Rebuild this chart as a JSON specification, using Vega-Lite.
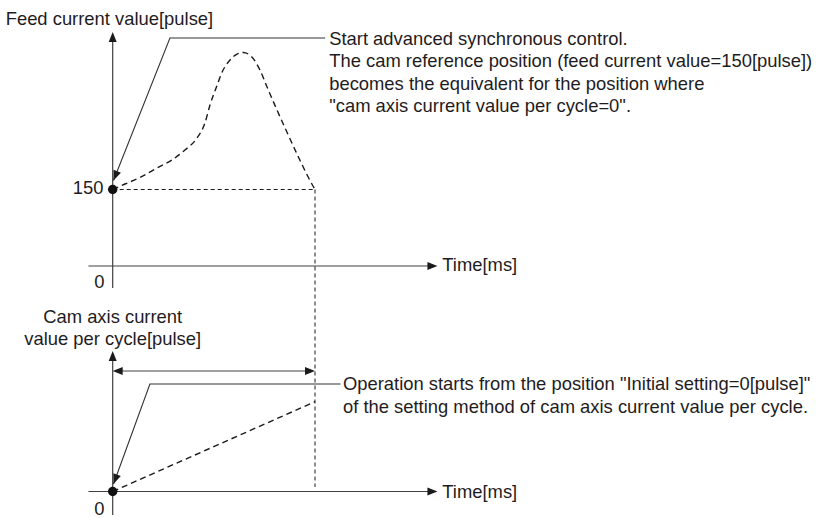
{
  "$schema": "https://vega.github.io/schema/vega-lite/v6.json",
  "width": 820,
  "height": 518,
  "padding": 0,
  "autosize": {"type": "none"},
  "background": "#ffffff",
  "config": {
    "view": {"stroke": null},
    "text": {"font": "Liberation Sans", "fontSize": 18.4, "color": "#1f1c1d"}
  },
  "datasets": {
    "topLines": [
      {"part": "feed axis", "t": 0, "t2": 0, "v": -43.1, "v2": 452},
      {"part": "time axis", "t": -12, "t2": 158, "v": 0, "v2": 0}
    ],
    "topGuides": [
      {"part": "150 level", "t": 0, "t2": 100, "v": 150, "v2": 150},
      {"part": "cycle end", "t": 100, "t2": 100, "v": 150, "v2": -433.3}
    ],
    "feedCurve": [
      {"t": 0, "v": 150}, {"t": 6.1, "v": 160.8}, {"t": 13.5, "v": 173.5}, {"t": 21.9, "v": 192.2},
      {"t": 29.3, "v": 207.8}, {"t": 35.7, "v": 227.5}, {"t": 41.7, "v": 251}, {"t": 45.6, "v": 280.4},
      {"t": 48.1, "v": 315.7}, {"t": 51.1, "v": 349}, {"t": 54.1, "v": 380.4}, {"t": 58, "v": 403.9},
      {"t": 61.5, "v": 415.7}, {"t": 64.5, "v": 418.6}, {"t": 68.5, "v": 411}, {"t": 72.8, "v": 384.3},
      {"t": 76.3, "v": 351}, {"t": 80.2, "v": 315}, {"t": 86.1, "v": 262.7}, {"t": 92.5, "v": 207.8},
      {"t": 99, "v": 156.9}, {"t": 100, "v": 150}
    ],
    "topArrows": [
      {"part": "feed axis", "t": 0, "v": 458.8},
      {"part": "time axis", "t": 160.5, "v": 0},
      {"part": "leader", "t": 0.4, "v": 167.6}
    ],
    "topLeader": [
      {"i": 1, "t": 105, "v": 447.1},
      {"i": 2, "t": 28.3, "v": 447.1},
      {"i": 3, "t": 0.4, "v": 167.6}
    ],
    "topDot": [{"t": 0, "v": 150}],
    "topTextLeft": [
      {"label": "Feed current value[pulse]", "t": -52.9, "v": 472.5},
      {"label": "0", "t": -9.1, "v": -43.1},
      {"label": "Time[ms]", "t": 162.9, "v": -9.2},
      {"label": "Start advanced synchronous control.", "t": 107, "v": 433.3},
      {"label": "The cam reference position (feed current value=150[pulse])", "t": 107, "v": 389.6},
      {"label": "becomes the equivalent for the position where", "t": 107, "v": 345.9},
      {"label": "\"cam axis current value per cycle=0\".", "t": 107, "v": 302}
    ],
    "topTextRight": [{"label": "150", "t": -4.6, "v": 140.6}],
    "botLines": [
      {"part": "cam axis", "t": 0, "t2": 0, "w": -26.2, "w2": 150},
      {"part": "time axis", "t": -12, "t2": 158, "w": 0, "w2": 0},
      {"part": "one cycle", "t": 2, "t2": 98, "w": 134.2, "w2": 134.2}
    ],
    "camLine": [{"t": 0, "w": 0}, {"t": 100, "w": 100}],
    "botArrows": [
      {"part": "cam axis", "t": 0, "w": 156.5},
      {"part": "time axis", "t": 160.5, "w": 0},
      {"part": "cycle start", "t": 0, "w": 134.2},
      {"part": "cycle end", "t": 100, "w": 134.2},
      {"part": "leader", "t": 0.4, "w": 8.4}
    ],
    "botLeader": [
      {"i": 1, "t": 112.6, "w": 119.7},
      {"i": 2, "t": 18.4, "w": 119.7},
      {"i": 3, "t": 0.4, "w": 8.4}
    ],
    "botDot": [{"t": 0, "w": 0}],
    "botTextLeft": [
      {"label": "0", "t": -9.1, "w": -26.2},
      {"label": "Time[ms]", "t": 162.9, "w": -7.2},
      {"label": "Operation starts from the position \"Initial setting=0[pulse]\"", "t": 113.8, "w": 112.5},
      {"label": "of the setting method of cam axis current value per cycle.", "t": 113.8, "w": 87.6}
    ],
    "botTextCenter": [
      {"label": "Cam axis current", "t": 0, "w": 187.1},
      {"label": "value per cycle[pulse]", "t": 0, "w": 163.1}
    ]
  },
  "layer": [
    {
      "layer": [
        {
          "data": {"name": "topLines"},
          "mark": {"type": "rule", "color": "#404040", "strokeWidth": 1.2},
          "encoding": {
            "x": {"field": "t", "type": "quantitative", "scale": {"domain": [-55.7, 349.6], "nice": false, "zero": false}, "axis": null},
            "x2": {"field": "t2"},
            "y": {"field": "v", "type": "quantitative", "scale": {"domain": [-494.1, 521.6], "nice": false, "zero": false}, "axis": null},
            "y2": {"field": "v2"}
          }
        },
        {
          "data": {"name": "topGuides"},
          "mark": {"type": "rule", "color": "#1a1a1a", "strokeWidth": 1, "strokeDash": [4, 3]},
          "encoding": {
            "x": {"field": "t", "type": "quantitative"},
            "x2": {"field": "t2"},
            "y": {"field": "v", "type": "quantitative"},
            "y2": {"field": "v2"}
          }
        },
        {
          "data": {"name": "feedCurve"},
          "mark": {"type": "line", "color": "#1a1a1a", "strokeWidth": 1.4, "strokeDash": [6, 4], "interpolate": "monotone"},
          "encoding": {
            "x": {"field": "t", "type": "quantitative"},
            "y": {"field": "v", "type": "quantitative"}
          }
        },
        {
          "data": {"name": "topLeader"},
          "mark": {"type": "line", "color": "#333333", "strokeWidth": 1.1},
          "encoding": {
            "x": {"field": "t", "type": "quantitative"},
            "y": {"field": "v", "type": "quantitative"},
            "order": {"field": "i", "type": "quantitative"}
          }
        },
        {
          "data": {"name": "topArrows"},
          "transform": [{"filter": "datum.part === 'feed axis'"}],
          "mark": {"type": "point", "shape": "M0,0L-2,-0.8L-2,0.8Z", "size": 100, "filled": true, "opacity": 1, "color": "#1a1a1a", "angle": 270},
          "encoding": {
            "x": {"field": "t", "type": "quantitative"},
            "y": {"field": "v", "type": "quantitative"}
          }
        },
        {
          "data": {"name": "topArrows"},
          "transform": [{"filter": "datum.part === 'time axis'"}],
          "mark": {"type": "point", "shape": "M0,0L-2,-0.8L-2,0.8Z", "size": 100, "filled": true, "opacity": 1, "color": "#1a1a1a", "angle": 0},
          "encoding": {
            "x": {"field": "t", "type": "quantitative"},
            "y": {"field": "v", "type": "quantitative"}
          }
        },
        {
          "data": {"name": "topArrows"},
          "transform": [{"filter": "datum.part === 'leader'"}],
          "mark": {"type": "point", "shape": "M0,0L-2,-0.8L-2,0.8Z", "size": 100, "filled": true, "opacity": 1, "color": "#1a1a1a", "angle": 111.8},
          "encoding": {
            "x": {"field": "t", "type": "quantitative"},
            "y": {"field": "v", "type": "quantitative"}
          }
        },
        {
          "data": {"name": "topDot"},
          "mark": {"type": "circle", "size": 90, "opacity": 1, "color": "#111111"},
          "encoding": {
            "x": {"field": "t", "type": "quantitative"},
            "y": {"field": "v", "type": "quantitative"}
          }
        },
        {
          "data": {"name": "topTextLeft"},
          "mark": {"type": "text", "align": "left", "baseline": "alphabetic"},
          "encoding": {
            "x": {"field": "t", "type": "quantitative"},
            "y": {"field": "v", "type": "quantitative"},
            "text": {"field": "label"}
          }
        },
        {
          "data": {"name": "topTextRight"},
          "mark": {"type": "text", "align": "right", "baseline": "alphabetic"},
          "encoding": {
            "x": {"field": "t", "type": "quantitative"},
            "y": {"field": "v", "type": "quantitative"},
            "text": {"field": "label"}
          }
        }
      ]
    },
    {
      "layer": [
        {
          "data": {"name": "botLines"},
          "mark": {"type": "rule", "color": "#404040", "strokeWidth": 1.2},
          "encoding": {
            "x": {"field": "t", "type": "quantitative", "scale": {"domain": [-55.7, 349.6], "nice": false, "zero": false}, "axis": null},
            "x2": {"field": "t2"},
            "y": {"field": "w", "type": "quantitative", "scale": {"domain": [-29.5, 547.3], "nice": false, "zero": false}, "axis": null},
            "y2": {"field": "w2"}
          }
        },
        {
          "data": {"name": "camLine"},
          "mark": {"type": "line", "color": "#1a1a1a", "strokeWidth": 1.4, "strokeDash": [6, 4]},
          "encoding": {
            "x": {"field": "t", "type": "quantitative"},
            "y": {"field": "w", "type": "quantitative"}
          }
        },
        {
          "data": {"name": "botLeader"},
          "mark": {"type": "line", "color": "#333333", "strokeWidth": 1.1},
          "encoding": {
            "x": {"field": "t", "type": "quantitative"},
            "y": {"field": "w", "type": "quantitative"},
            "order": {"field": "i", "type": "quantitative"}
          }
        },
        {
          "data": {"name": "botArrows"},
          "transform": [{"filter": "datum.part === 'cam axis'"}],
          "mark": {"type": "point", "shape": "M0,0L-2,-0.8L-2,0.8Z", "size": 100, "filled": true, "opacity": 1, "color": "#1a1a1a", "angle": 270},
          "encoding": {
            "x": {"field": "t", "type": "quantitative"},
            "y": {"field": "w", "type": "quantitative"}
          }
        },
        {
          "data": {"name": "botArrows"},
          "transform": [{"filter": "datum.part === 'time axis' || datum.part === 'cycle end'"}],
          "mark": {"type": "point", "shape": "M0,0L-2,-0.8L-2,0.8Z", "size": 100, "filled": true, "opacity": 1, "color": "#1a1a1a", "angle": 0},
          "encoding": {
            "x": {"field": "t", "type": "quantitative"},
            "y": {"field": "w", "type": "quantitative"}
          }
        },
        {
          "data": {"name": "botArrows"},
          "transform": [{"filter": "datum.part === 'cycle start'"}],
          "mark": {"type": "point", "shape": "M0,0L-2,-0.8L-2,0.8Z", "size": 100, "filled": true, "opacity": 1, "color": "#1a1a1a", "angle": 180},
          "encoding": {
            "x": {"field": "t", "type": "quantitative"},
            "y": {"field": "w", "type": "quantitative"}
          }
        },
        {
          "data": {"name": "botArrows"},
          "transform": [{"filter": "datum.part === 'leader'"}],
          "mark": {"type": "point", "shape": "M0,0L-2,-0.8L-2,0.8Z", "size": 100, "filled": true, "opacity": 1, "color": "#1a1a1a", "angle": 110.9},
          "encoding": {
            "x": {"field": "t", "type": "quantitative"},
            "y": {"field": "w", "type": "quantitative"}
          }
        },
        {
          "data": {"name": "botDot"},
          "mark": {"type": "circle", "size": 90, "opacity": 1, "color": "#111111"},
          "encoding": {
            "x": {"field": "t", "type": "quantitative"},
            "y": {"field": "w", "type": "quantitative"}
          }
        },
        {
          "data": {"name": "botTextLeft"},
          "mark": {"type": "text", "align": "left", "baseline": "alphabetic"},
          "encoding": {
            "x": {"field": "t", "type": "quantitative"},
            "y": {"field": "w", "type": "quantitative"},
            "text": {"field": "label"}
          }
        },
        {
          "data": {"name": "botTextCenter"},
          "mark": {"type": "text", "align": "center", "baseline": "alphabetic"},
          "encoding": {
            "x": {"field": "t", "type": "quantitative"},
            "y": {"field": "w", "type": "quantitative"},
            "text": {"field": "label"}
          }
        }
      ],
      "resolve": {"scale": {"y": "shared"}}
    }
  ],
  "resolve": {"scale": {"y": "independent"}}
}
